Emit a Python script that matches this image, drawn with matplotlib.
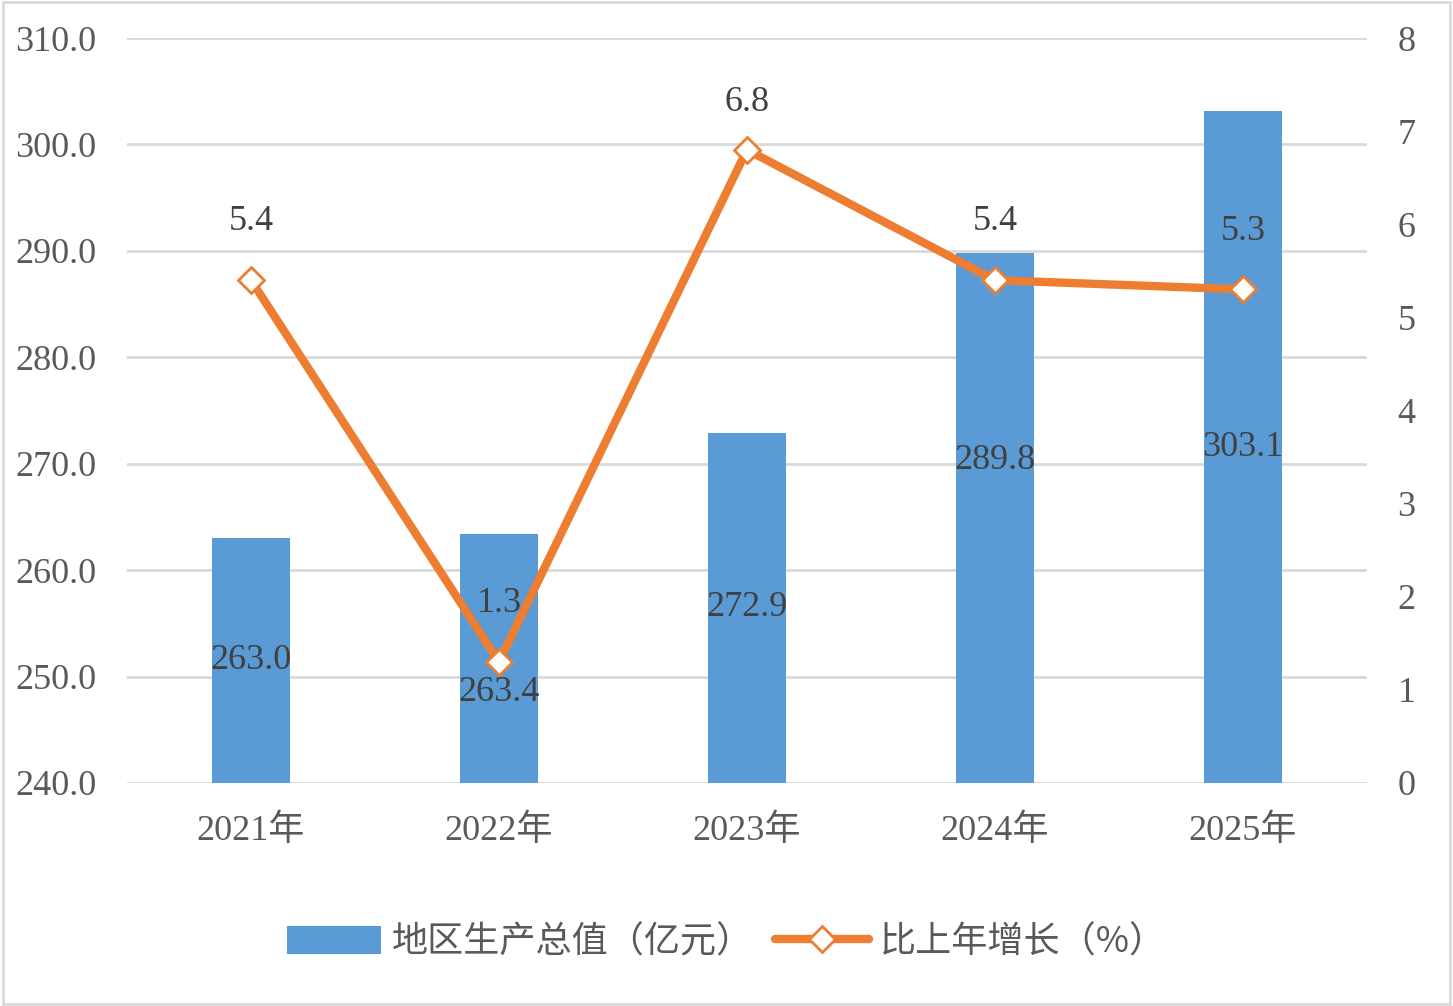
import matplotlib
matplotlib.use('Agg')
import matplotlib.pyplot as plt
import numpy as np
from matplotlib.patches import Rectangle

# Data
years = ['2021年', '2022年', '2023年', '2024年', '2025年']
gdp = [263.0, 263.4, 272.9, 289.8, 303.1]
growth = [5.4, 1.3, 6.8, 5.4, 5.3]
gdp_name = '地区生产总值（亿元）'
growth_name = '比上年增长（%）'

fonts = ['Liberation Serif', 'Noto Sans CJK SC', 'DejaVu Sans']
plt.rcParams['font.family'] = fonts
text_color = '#595959'
bar_color = '#5B9BD5'
line_color = '#ED7D31'
fs = 26

fig = plt.figure(figsize=(14.53, 10.06), dpi=100)
ax = fig.add_axes([0.0874, 0.2217, 0.8534, 0.7405])
ax2 = ax.twinx()

x = np.arange(len(years))
bars = ax.bar(x, gdp, width=0.315, color=bar_color, zorder=2, label=gdp_name)
ax.set_ylim(240, 310)
ax.set_yticks(np.arange(240, 311, 10))
ax.set_yticklabels([f'{v:.1f}' for v in np.arange(240, 311, 10)])
ax.set_xlim(-0.5, len(years) - 0.5)
ax.set_xticks(x)
ax.set_xticklabels(years)
ax.grid(axis='y', color='#D9D9D9', linewidth=2, zorder=0)
ax.set_axisbelow(True)

# bar labels at bar middle (two are nudged, as in the source chart)
label_shift = {1: -3.2, 3: 5.4}
for i, v in enumerate(gdp):
    ymid = (240 + v) / 2 + label_shift.get(i, 0)
    ax.text(i, ymid, f'{v:.1f}', ha='center', va='center', fontsize=fs,
            color='#404040', zorder=5)

ln, = ax2.plot(x, growth, color=line_color, linewidth=6, marker='D',
               markersize=13, markerfacecolor='white', markeredgecolor=line_color,
               markeredgewidth=2, zorder=4, label=growth_name, solid_capstyle='round')
ax2.set_ylim(0, 8)
ax2.set_yticks(range(0, 9))
up = {2: 34}
for i, v in enumerate(growth):
    ax2.annotate(f'{v:.1f}', (i, v), xytext=(0, up.get(i, 42)), textcoords='offset points',
                 ha='center', va='center', fontsize=fs, color='#404040')

for a in (ax, ax2):
    for s in a.spines.values():
        s.set_visible(False)
    a.tick_params(length=0, labelsize=fs, colors=text_color)
ax.tick_params(axis='y', pad=22)
ax.tick_params(axis='x', pad=23)
ax2.tick_params(axis='y', pad=22)
ax.set_zorder(ax2.get_zorder() - 1)
ax2.patch.set_visible(False)

fig.legend(handles=[bars, ln], labels=[gdp_name, growth_name], loc='center',
           bbox_to_anchor=(0.5, 0.063), ncol=2, frameon=False, fontsize=fs,
           labelcolor=text_color, handlelength=2.6, handleheight=0.8,
           columnspacing=0.6, handletextpad=0.3,
           prop={'family': ['Noto Sans CJK SC', 'DejaVu Sans'], 'size': fs})

# light frame around the chart
fig.patches.append(Rectangle((0.002, 0.002), 0.996, 0.996, transform=fig.transFigure,
                             fill=False, edgecolor='#D9D9D9', linewidth=2))

fig.savefig('out.png', dpi=100)
